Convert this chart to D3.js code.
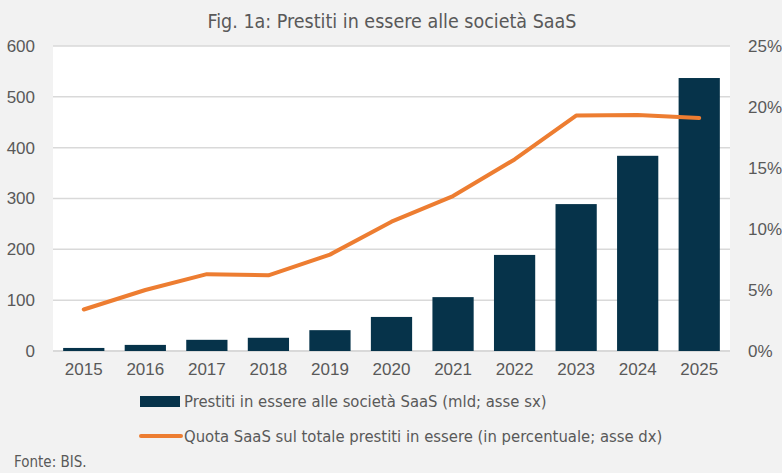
<!DOCTYPE html>
<html>
<head>
<meta charset="utf-8">
<script src="https://cdn.jsdelivr.net/npm/d3@7"></script>
<style>
  body { margin: 0; background: #f2f2f2; }
  svg { display: block; }
</style>
</head>
<body>
<div id="chart"></div>
<script>
// data
const years = ["2015", "2016", "2017", "2018", "2019", "2020", "2021", "2022", "2023", "2024", "2025"];
const loans = [6, 12, 22, 26, 41, 67, 106, 189, 289, 384, 537];
const share = [3.4, 5.0, 6.3, 6.2, 7.9, 10.6, 12.7, 15.7, 19.3, 19.35, 19.1];
const leftTicks = [0, 100, 200, 300, 400, 500, 600];
const rightTicks = [0, 5, 10, 15, 20, 25];

const W = 782, H = 473;
const margin = {top: 46, right: 52, bottom: 122, left: 53};
const width = W - margin.left - margin.right,
  height = H - margin.top - margin.bottom;

const svg = d3.select("#chart").append("svg")
  .attr("width", W)
  .attr("height", H);

svg.append("rect")
  .attr("width", W).attr("height", H)
  .attr("fill", "#f2f2f2");

// white plot area
svg.append("rect")
  .attr("x", margin.left)
  .attr("y", margin.top)
  .attr("width", width)
  .attr("height", height)
  .attr("fill", "#ffffff");

svg.append("text")
  .attr("x", W / 2 + 1)
  .attr("y", 28)
  .attr("text-anchor", "middle")
  .style("font-family", "'Liberation Sans Narrow', 'DejaVu Sans Condensed', sans-serif")
  .style("font-size", "19.5px")
  .style("fill", "#595959")
  .text("Fig. 1a: Prestiti in essere alle società SaaS");

const g = svg.append("g")
  .attr("transform", `translate(${margin.left},${margin.top})`);

const x = d3.scaleBand()
  .domain(years)
  .range([0, width])
  .paddingInner(0.33)
  .paddingOuter(0.165);

const y = d3.scaleLinear().domain([0, 600]).range([height, 0]);
const y2 = d3.scaleLinear().domain([0, 25]).range([height, 0]);

// gridlines
g.selectAll(".grid")
  .data(leftTicks).enter()
  .append("line")
  .attr("x1", 0).attr("x2", width)
  .attr("y1", d => y(d)).attr("y2", d => y(d))
  .attr("stroke", "#d9d9d9")
  .attr("stroke-width", d => d === 0 ? 2 : 1.5);

// bars
g.selectAll(".bar")
  .data(years).enter()
  .append("rect")
  .attr("x", d => x(d))
  .attr("width", x.bandwidth())
  .attr("y", (d, i) => y(loans[i]))
  .attr("height", (d, i) => y(0) - y(loans[i]))
  .attr("fill", "#06334a");

// line
const line = d3.line()
  .x((d, i) => x(years[i]) + x.bandwidth() / 2)
  .y(d => y2(d));

g.append("path")
  .datum(share)
  .attr("d", line)
  .attr("fill", "none")
  .attr("stroke", "#ed7d31")
  .attr("stroke-width", 4)
  .attr("stroke-linecap", "round")
  .attr("stroke-linejoin", "round");

const tickFont = "'Liberation Sans', Arial, sans-serif";

// axes
const axLeft = g.append("g")
  .call(d3.axisLeft(y).tickValues(leftTicks).tickSize(0).tickPadding(18));
const axRight = g.append("g")
  .attr("transform", `translate(${width},0)`)
  .call(d3.axisRight(y2).tickValues(rightTicks).tickSize(0).tickPadding(18)
    .tickFormat(d => d + "%"));
const axBottom = g.append("g")
  .attr("transform", `translate(0,${height})`)
  .call(d3.axisBottom(x).tickSize(0).tickPadding(12));

[axLeft, axRight, axBottom].forEach(a => {
  a.select(".domain").remove();
  a.selectAll("text")
    .style("font-family", tickFont)
    .style("font-size", "17px")
    .style("fill", "#595959");
});

// legend
const legFont = "'Liberation Sans Narrow', 'DejaVu Sans Condensed', sans-serif";
const leg = svg.append("g");
leg.append("rect")
  .attr("x", 140).attr("y", 396)
  .attr("width", 40).attr("height", 11)
  .attr("fill", "#06334a");
leg.append("text")
  .attr("x", 184).attr("y", 407)
  .style("font-family", legFont)
  .style("font-size", "16.5px")
  .style("fill", "#595959")
  .text("Prestiti in essere alle società SaaS (mld; asse sx)");

leg.append("line")
  .attr("x1", 141).attr("x2", 181)
  .attr("y1", 436).attr("y2", 436)
  .attr("stroke", "#ed7d31")
  .attr("stroke-width", 4)
  .attr("stroke-linecap", "round");
leg.append("text")
  .attr("x", 184).attr("y", 442)
  .style("font-family", legFont)
  .style("font-size", "16.5px")
  .style("fill", "#595959")
  .text("Quota SaaS sul totale prestiti in essere (in percentuale; asse dx)");

svg.append("text")
  .attr("x", 14).attr("y", 467)
  .style("font-family", legFont)
  .style("font-size", "15px")
  .style("fill", "#595959")
  .text("Fonte: BIS.");
</script>
</body>
</html>
